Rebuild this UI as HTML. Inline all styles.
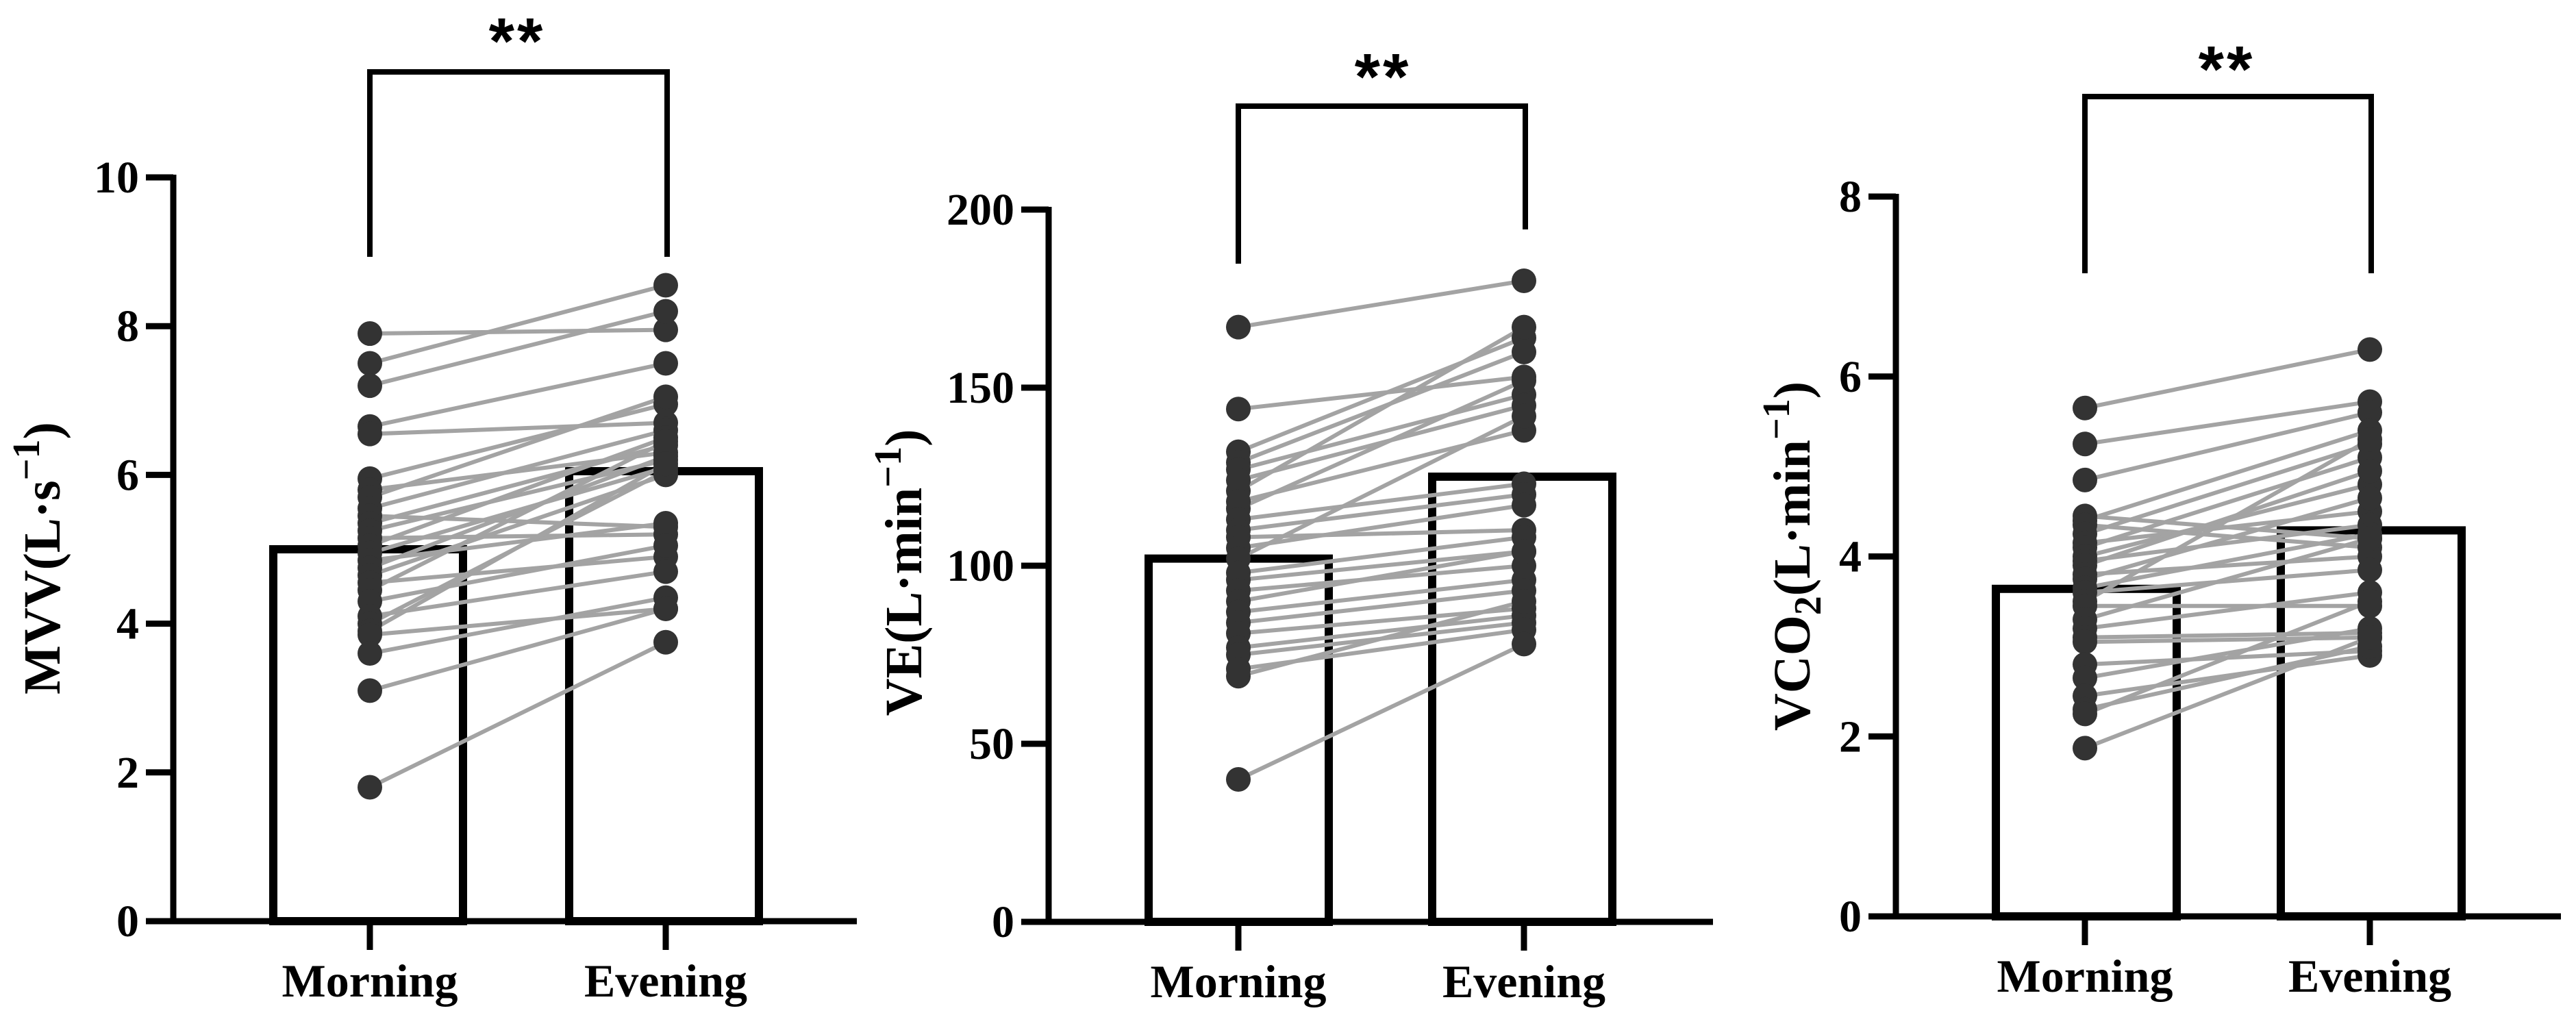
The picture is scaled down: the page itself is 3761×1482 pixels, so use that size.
<!DOCTYPE html>
<html><head><meta charset="utf-8"><style>
html,body{margin:0;padding:0;background:#fff;}
svg{display:block;}
text{font-family:"Liberation Serif",serif;font-weight:bold;fill:#000;}
</style></head><body>
<svg id="chart" width="3761" height="1482" viewBox="0 0 3761 1482" xmlns="http://www.w3.org/2000/svg"></svg>
<script>
const categories = ["Morning", "Evening"];
const mvvMorning = [7.9,7.5,7.2,6.65,6.55,5.95,5.8,5.7,5.55,5.45,5.35,5.25,5.15,5.05,4.95,4.85,4.75,4.65,4.55,4.45,4.3,4.1,4.0,3.9,3.85,3.6,3.1,1.8];
const mvvEvening = [7.95,8.55,8.2,7.5,6.7,6.95,6.3,7.05,6.6,5.3,6.4,6.2,5.2,6.5,6.1,5.35,6.25,6.0,4.9,6.45,5.05,4.7,6.05,6.15,4.2,4.35,4.2,3.75];
const mvvMeans = [5.0, 6.05];
const mvvTicks = [0,2,4,6,8,10];
const veMorning = [167,144,132,129,127,124,121,118,116,113,110,108,105,102,98,96,93,90,87,84,81,77,75,71,69,40];
const veEvening = [180,153,164,160,148,145,167,138,152,123,120,110,117,142,108,104,100,104,96,93,88,86,84,82,90,78];
const veMeans = [102, 125];
const veTicks = [0,50,100,150,200];
const vcoMorning = [5.65,5.25,4.85,4.45,4.4,4.35,4.25,4.15,4.1,4.0,3.95,3.9,3.8,3.75,3.65,3.6,3.5,3.45,3.3,3.2,3.1,3.05,2.8,2.65,2.45,2.3,2.25,1.87];
const vcoEvening = [6.3,5.72,5.6,4.2,5.4,4.1,5.25,4.5,5.1,4.8,4.35,4.95,4.0,4.65,4.25,3.85,5.3,3.45,4.2,3.6,3.15,3.1,2.95,3.2,2.9,3.0,3.5,3.1];
const vcoMeans = [3.64, 4.29];
const vcoTicks = [0,2,4,6,8];
const sigLabel = "**";

const NS = "http://www.w3.org/2000/svg";
const svg = document.getElementById("chart");
function mk(tag, attrs, parent){
  const e = document.createElementNS(NS, tag);
  for (const k in attrs) e.setAttribute(k, attrs[k]);
  (parent||svg).appendChild(e);
  return e;
}
const panels = [
  {id:"mvv", m:mvvMorning, e:mvvEvening, means:mvvMeans, ticks:mvvTicks, max:10, title:"MVV(L·s", titleSup:"−1", sub:null,
   ax:253, y0:1345, yTop:259, xEnd:1251, cx:[540,972], barL:[399,831], barW:277, br:{top:105,l:375,r:375,sx:755,sy:43}, tx:60, ty:815},
  {id:"ve", m:veMorning, e:veEvening, means:veMeans, ticks:veTicks, max:200, title:"VE(L·min", titleSup:"−1", sub:null,
   ax:1531, y0:1346, yTop:306, xEnd:2501, cx:[1808,2225], barL:[1677,2091], barW:263, br:{top:155,l:385,r:335,sx:2019,sy:95}, tx:1318, ty:836},
  {id:"vco2", m:vcoMorning, e:vcoEvening, means:vcoMeans, ticks:vcoTicks, max:8, title:"VCO", titleSup:"−1", sub:"2",
   ax:2768, y0:1338, yTop:287, xEnd:3739, cx:[3044,3460], barL:[2914,3330], barW:264, br:{top:141,l:399,r:399,sx:3251,sy:84}, tx:2615, ty:812}
];
panels.forEach(p => {
  const g = mk("g", {});
  
  
  const y = v => p.y0 - (v / p.max) * (p.y0 - p.yTop);
  p.means.forEach((v, i) => {
    const r = mk("rect", {x:p.barL[i], y:y(v), width:p.barW, height:p.y0 - y(v), fill:"#fff", stroke:"#000", "stroke-width":12}, g);
    
    
  });
  p.m.forEach((v, i) => {
    const l = mk("line", {x1:p.cx[0], y1:y(v), x2:p.cx[1], y2:y(p.e[i]), stroke:"#a3a3a3", "stroke-width":6}, g);
    
    
  });
  [p.m, p.e].forEach((arr, ci) => {
    arr.forEach(v => {
      const c = mk("circle", {cx:p.cx[ci], cy:y(v), r:18, fill:"#333"}, g);
      
      
    });
  });
  const ya = mk("line", {x1:p.ax, y1:p.yTop - 4, x2:p.ax, y2:p.y0 + 4, stroke:"#000", "stroke-width":9}, g);
  
  
  const xa = mk("line", {x1:p.ax - 40, y1:p.y0, x2:p.xEnd, y2:p.y0, stroke:"#000", "stroke-width":9}, g);
  
  
  p.ticks.forEach(t => {
    const tk = mk("line", {x1:p.ax - 40, y1:y(t), x2:p.ax, y2:y(t), stroke:"#000", "stroke-width":9}, g);
    
    
    const tl = mk("text", {x:p.ax - 50, y:y(t) + 22, "text-anchor":"end", "font-size":66}, g);
    tl.textContent = t;
    
    
  });
  categories.forEach((c, i) => {
    const tk = mk("line", {x1:p.cx[i], y1:p.y0, x2:p.cx[i], y2:p.y0 + 42, stroke:"#000", "stroke-width":9}, g);
    
    
    const tl = mk("text", {x:p.cx[i], y:p.y0 + 110, "text-anchor":"middle", "font-size":68}, g);
    tl.textContent = c;
    
    
  });
  const tt = mk("text", {x:0, y:0, "text-anchor":"middle", "font-size":76, transform:"translate(" + (p.tx + 27) + "," + p.ty + ") rotate(-90)"}, g);
  
  
  const t1 = mk("tspan", {}, tt); t1.textContent = p.title;
  if (p.sub) {
    const s = mk("tspan", {dy:16, "font-size":56}, tt); s.textContent = p.sub;
    const t2 = mk("tspan", {dy:-16}, tt); t2.textContent = "(L·min";
  }
  const sp = mk("tspan", {dy:-30, "font-size":56}, tt); sp.textContent = p.titleSup;
  const cl = mk("tspan", {dy:30}, tt); cl.textContent = ")";
  const b = p.br;
  const bp = mk("path", {d:"M" + p.cx[0] + "," + b.l + " V" + b.top + " H" + (p.cx[1] + 2) + " V" + b.r, fill:"none", stroke:"#000", "stroke-width":8}, g);
  
  
  const st = mk("text", {x:b.sx, y:b.sy + 50, "text-anchor":"middle", "font-size":96, "letter-spacing":"4", style:"font-family:'Liberation Sans',sans-serif;font-weight:bold"}, g);
  st.textContent = sigLabel;
  
  
});
</script>
</body></html>
